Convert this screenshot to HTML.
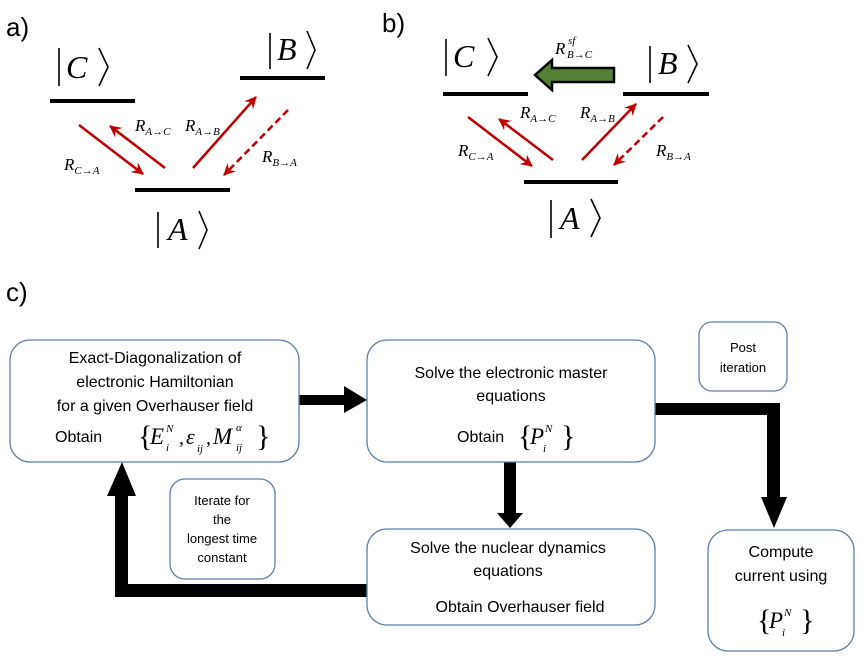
<!DOCTYPE html>
<html><head><meta charset="utf-8"><style>
html,body{margin:0;padding:0;background:#fff;}
svg{display:block;}
.lab{font-family:"Liberation Sans",sans-serif;font-size:26px;fill:#000;}
.m{font-family:"Liberation Serif",serif;font-style:italic;fill:#000;}
.t{font-family:"Liberation Sans",sans-serif;font-size:16px;fill:#000;}
.ts{font-family:"Liberation Sans",sans-serif;font-size:13px;fill:#000;}
.box{fill:#fff;stroke:#5d80a9;stroke-width:1.3;}
.ra{stroke:#c00000;stroke-width:2.5;fill:none;}
.lvl{stroke:#000;stroke-width:4;}
.k{stroke:#000;stroke-width:1.6;fill:none;}
.br{font-family:"Liberation Serif",serif;font-size:30px;fill:#000;}
</style></head><body>
<svg width="865" height="672" viewBox="0 0 865 672" xmlns="http://www.w3.org/2000/svg">
<defs>
<marker id="ah2" markerWidth="14" markerHeight="14" refX="11" refY="7" orient="auto" markerUnits="userSpaceOnUse" viewBox="0 0 14 14">
<path d="M0,1 L12,7 L0,13 L4,7 Z" fill="#c00000"/>
</marker>
</defs>

<!-- a) -->
<text class="lab" x="6" y="36">a)</text>
<line class="lvl" x1="50" y1="101" x2="135" y2="101"/>
<line class="lvl" x1="240" y1="78" x2="325" y2="78"/>
<line class="lvl" x1="135" y1="190" x2="230" y2="190"/>
<line class="k" x1="59" y1="48" x2="59" y2="86"/>
<text class="m" x="66" y="78" font-size="32">C</text>
<polyline class="k" points="99,48 108,67 99,86"/>
<line class="k" x1="270" y1="33" x2="270" y2="69"/>
<text class="m" x="277" y="60" font-size="32">B</text>
<polyline class="k" points="307,31 315,50 307,69"/>
<line class="k" x1="158" y1="212" x2="158" y2="248"/>
<text class="m" x="168" y="240" font-size="32">A</text>
<polyline class="k" points="199,211 207,230 199,249"/>
<line class="ra" x1="79" y1="125" x2="143" y2="174" marker-end="url(#ah2)"/>
<line class="ra" x1="165" y1="168" x2="110" y2="126" marker-end="url(#ah2)"/>
<line class="ra" x1="193" y1="168" x2="256" y2="97" marker-end="url(#ah2)"/>
<line class="ra" x1="288" y1="110" x2="224" y2="175" stroke-dasharray="7,4" marker-end="url(#ah2)"/>
<text class="m" x="135" y="131" font-size="17">R<tspan font-size="11" dy="4">A→C</tspan></text>
<text class="m" x="185" y="131" font-size="17">R<tspan font-size="11" dy="4">A→B</tspan></text>
<text class="m" x="64" y="170" font-size="17">R<tspan font-size="11" dy="4">C→A</tspan></text>
<text class="m" x="262" y="162" font-size="17">R<tspan font-size="11" dy="4">B→A</tspan></text>

<!-- b) -->
<text class="lab" x="382" y="32">b)</text>
<line class="lvl" x1="443" y1="94" x2="528" y2="94"/>
<line class="lvl" x1="623" y1="94" x2="709" y2="94"/>
<line class="lvl" x1="524" y1="182" x2="618" y2="182"/>
<line class="k" x1="446" y1="39" x2="446" y2="76"/>
<text class="m" x="453" y="67" font-size="32">C</text>
<polyline class="k" points="488,38 497,57 488,76"/>
<line class="k" x1="650" y1="46" x2="650" y2="83"/>
<text class="m" x="658" y="74" font-size="32">B</text>
<polyline class="k" points="688,45 697,64 688,83"/>
<line class="k" x1="551" y1="200" x2="551" y2="238"/>
<text class="m" x="560" y="229" font-size="32">A</text>
<polyline class="k" points="591,199 600,218 591,237"/>
<path d="M614,68 L552,68 L552,60 L535,75 L552,90 L552,82 L614,82 Z" fill="#548235" stroke="#000" stroke-width="2.5"/>
<text class="m" x="555" y="54" font-size="17">R</text>
<text class="m" x="567" y="58" font-size="11">B→C</text>
<text class="m" x="568" y="44" font-size="11">sf</text>
<line class="ra" x1="468" y1="117" x2="532" y2="166" marker-end="url(#ah2)"/>
<line class="ra" x1="553" y1="160" x2="499" y2="119" marker-end="url(#ah2)"/>
<line class="ra" x1="582" y1="160" x2="636" y2="104" marker-end="url(#ah2)"/>
<line class="ra" x1="663" y1="117" x2="614" y2="165" stroke-dasharray="7,4" marker-end="url(#ah2)"/>
<text class="m" x="520" y="118" font-size="17">R<tspan font-size="11" dy="4">A→C</tspan></text>
<text class="m" x="580" y="118" font-size="17">R<tspan font-size="11" dy="4">A→B</tspan></text>
<text class="m" x="458" y="156" font-size="17">R<tspan font-size="11" dy="4">C→A</tspan></text>
<text class="m" x="656" y="156" font-size="17">R<tspan font-size="11" dy="4">B→A</tspan></text>

<!-- c) -->
<text class="lab" x="6" y="301">c)</text>

<path d="M299,395 L344,395 L344,386 L367,400 L344,413 L344,405 L299,405 Z" fill="#000"/>
<path d="M504,462 L516,462 L516,513 L523,513 L510,528 L497,513 L504,513 Z" fill="#000"/>
<path d="M655,403 L780,403 L780,497 L787,497 L774,528 L761,497 L767,497 L767,415 L655,415 Z" fill="#000"/>
<path d="M367,584 L128,584 L128,496 L136,496 L122,462 L107,496 L115,496 L115,597 L367,597 Z" fill="#000"/>

<rect class="box" x="10" y="340" width="289" height="122" rx="20"/>
<text class="t" text-anchor="middle" x="155" y="363">Exact-Diagonalization of</text>
<text class="t" text-anchor="middle" x="155" y="387">electronic Hamiltonian</text>
<text class="t" text-anchor="middle" x="155" y="411">for a given Overhauser field</text>
<text class="t" x="55" y="442">Obtain</text>
<text class="br" x="138" y="446">{</text>
<text class="m" x="150" y="444" font-size="23">E</text>
<text class="m" x="166" y="432" font-size="11">N</text>
<text class="m" x="166" y="451" font-size="11">i</text>
<text class="m" x="179" y="444" font-size="20">,</text>
<text class="m" x="186" y="444" font-size="22">ε</text>
<text class="m" x="197" y="452" font-size="11">ij</text>
<text class="m" x="206" y="444" font-size="20">,</text>
<text class="m" x="213" y="444" font-size="23">M</text>
<text class="m" x="236" y="431" font-size="11">α</text>
<text class="m" x="236" y="451" font-size="11">ij</text>
<text class="br" x="256" y="446">}</text>

<rect class="box" x="367" y="340" width="288" height="122" rx="20"/>
<text class="t" text-anchor="middle" x="511" y="378">Solve the electronic master</text>
<text class="t" text-anchor="middle" x="511" y="401">equations</text>
<text class="t" x="457" y="442">Obtain</text>
<text class="br" x="518" y="446">{</text>
<text class="m" x="530" y="444" font-size="23">P</text>
<text class="m" x="545" y="432" font-size="11">N</text>
<text class="m" x="543" y="452" font-size="11">i</text>
<text class="br" x="561" y="446">}</text>

<rect class="box" x="699" y="322" width="88" height="69" rx="13"/>
<text class="ts" text-anchor="middle" x="743" y="352" font-size="14">Post</text>
<text class="ts" text-anchor="middle" x="743" y="372" font-size="14">iteration</text>

<rect class="box" x="170" y="479" width="105" height="100" rx="15"/>
<text class="ts" text-anchor="middle" x="222" y="505">Iterate for</text>
<text class="ts" text-anchor="middle" x="222" y="524">the</text>
<text class="ts" text-anchor="middle" x="222" y="543">longest time</text>
<text class="ts" text-anchor="middle" x="222" y="562">constant</text>

<rect class="box" x="367" y="529" width="288" height="96" rx="20"/>
<text class="t" text-anchor="middle" x="508" y="553">Solve the nuclear dynamics</text>
<text class="t" text-anchor="middle" x="508" y="576">equations</text>
<text class="t" text-anchor="middle" x="520" y="612">Obtain Overhauser field</text>

<rect class="box" x="708" y="530" width="146" height="121" rx="20"/>
<text class="t" text-anchor="middle" x="781" y="557">Compute</text>
<text class="t" text-anchor="middle" x="781" y="581">current using</text>
<text class="br" x="757" y="630">{</text>
<text class="m" x="769" y="628" font-size="23">P</text>
<text class="m" x="784" y="616" font-size="11">N</text>
<text class="m" x="782" y="636" font-size="11">i</text>
<text class="br" x="800" y="630">}</text>
</svg>
</body></html>
